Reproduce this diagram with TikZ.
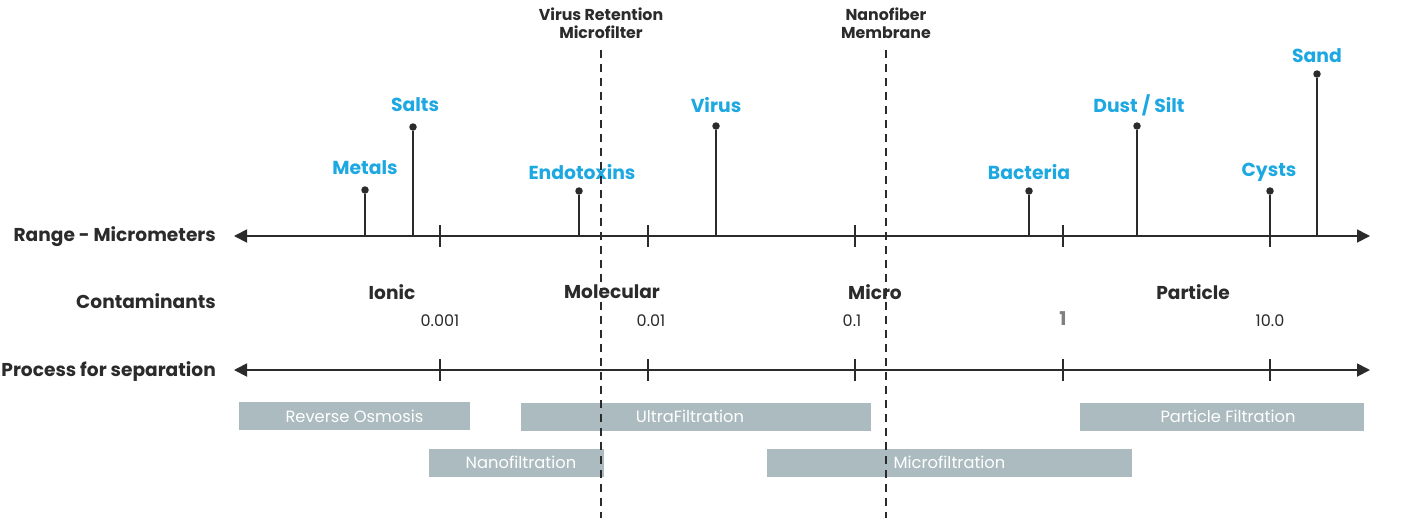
\documentclass[tikz,border=0pt]{standalone}
\usepackage{fontspec}
\setmainfont{Poppins}
\usetikzlibrary{arrows.meta}
\definecolor{ink}{HTML}{2B2B2B}
\definecolor{cblue}{HTML}{1DA8E2}
\definecolor{boxc}{HTML}{ABBBBF}
\tikzset{
  axisline/.style={draw=ink, line width=1.8pt, -{Triangle[length=13pt,width=13pt]}},
  tickmark/.style={draw=ink, line width=1.5pt},
  stem/.style={draw=ink, line width=1.8pt},
  dotc/.style={circle, fill=ink, inner sep=0pt, minimum size=7.5pt},
  blab/.style={text=cblue, font=\fontsize{18.8}{22}\selectfont\bfseries},
  rowlab/.style={text=ink, anchor=east, inner sep=0pt, font=\fontsize{18.6}{22}\selectfont\bfseries},
  catlab/.style={text=ink, font=\fontsize{18.6}{22}\selectfont\bfseries},
  numlab/.style={text=ink, font=\fontsize{16}{18}\selectfont},
  toplab/.style={text=ink, align=center, font=\fontsize{15.8}{18.5}\selectfont\bfseries},
  procbox/.style={fill=boxc, text=white, font=\fontsize{16.3}{19}\selectfont},
  dashv/.style={draw=ink, line width=1.5pt, dash pattern=on 8pt off 6pt}
}
\begin{document}
\begin{tikzpicture}[x=1pt,y=-1pt]
\useasboundingbox (0,0) rectangle (1411,528);
% row labels
\node[rowlab] (r1) at (216,237) {Range - Micrometers};
\node[rowlab] (r2) at (216,301) {Contaminants};
\node[rowlab] (r3) at (216,372) {Process for separation};
% axes
\coordinate (a1l) at (234,236); \coordinate (a1r) at (1370,236);
\coordinate (a2l) at (234,370); \coordinate (a2r) at (1370,370);
\draw[axisline] (800,236) -- (a1l);
\draw[axisline] (800,236) -- (a1r);
\draw[axisline] (800,370) -- (a2l);
\draw[axisline] (800,370) -- (a2r);
% ticks
\foreach \x in {440,648,855,1063,1270}{
  \draw[tickmark] (\x,225) -- (\x,247);
  \draw[tickmark] (\x,359) -- (\x,381);
}
% dashed lines
\coordinate (d1t) at (601,50); \coordinate (d1b) at (601,518);
\coordinate (d2t) at (886,50); \coordinate (d2b) at (886,518);
\draw[dashv] (d1t) -- (d1b);
\draw[dashv] (d2t) -- (d2b);
\node[toplab] (vrm) at (601,23) {Virus Retention\\Microfilter};
\node[toplab] (nfm) at (886,23) {Nanofiber\\Membrane};
% stems
\foreach \n/\x/\y in {metals/365/190, salts/413/127, endo/579/191, virus/716/126, bact/1029/191, dust/1137/126, cysts/1270/191, sand/1317/74}{
  \node[dotc] (\n) at (\x,\y) {};
  \coordinate (\n b) at (\x,236);
  \draw[stem] (\n) -- (\n b);
}
\node[blab] (lmetals) at (365,168) {Metals};
\node[blab] (lsalts) at (415,105) {Salts};
\node[blab] (lendo) at (582,172) {Endotoxins};
\node[blab] (lvirus) at (716,105) {Virus};
\node[blab] (lbact) at (1029,172) {Bacteria};
\node[blab] (ldust) at (1139,105) {Dust / Silt};
\node[blab] (lcysts) at (1269,172) {Cysts};
\node[blab] (lsand) at (1317,56) {Sand};
% categories
\node[catlab] (ionic) at (392,292) {Ionic};
\node[catlab] (molec) at (612,292) {Molecular};
\node[catlab] (micro) at (875,292) {Micro};
\node[catlab] (part) at (1193,292) {Particle};
% numbers
\node[numlab] (n1) at (440,321) {0.001};
\node[numlab] (n2) at (651,321) {0.01};
\node[numlab] (n3) at (852,321) {0.1};
\node[text=gray, font=\fontsize{19}{22}\selectfont\bfseries] (n4) at (1063,319) {1};
\node[numlab] (n5) at (1270,321) {10.0};
% process boxes
\node[procbox, minimum width=231pt, minimum height=28pt] (ro) at (354.5,416) {Reverse Osmosis};
\node[procbox, minimum width=350pt, minimum height=28pt] (uf) at (696,416.5) {};
\node[text=white, font=\fontsize{16.3}{19}\selectfont] (uft) at (690,416.5) {UltraFiltration};
\node[procbox, minimum width=284pt, minimum height=28pt] (pf) at (1222,416.5) {};
\node[text=white, font=\fontsize{16.3}{19}\selectfont] (pft) at (1228,416.5) {Particle Filtration};
\node[procbox, minimum width=175pt, minimum height=28pt] (nf) at (516.5,462.5) {};
\node[text=white, font=\fontsize{16.3}{19}\selectfont] (nft) at (521,462.5) {Nanofiltration};
\node[procbox, minimum width=365pt, minimum height=28pt] (mf) at (949.5,462.5) {Microfiltration};
% redraw dashed line over boxes
\draw[dashv] (d1t) -- (d1b);
\draw[dashv] (d2t) -- (d2b);
\end{tikzpicture}
\end{document}
